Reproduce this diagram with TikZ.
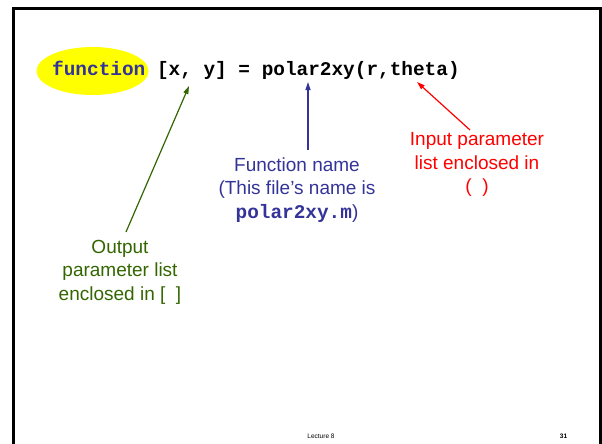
\documentclass[tikz,border=0pt]{standalone}
\usepackage{fontspec}
\setmainfont{Liberation Sans}
\setmonofont{Liberation Mono}
\usetikzlibrary{arrows.meta}
\definecolor{kwblue}{RGB}{51,51,153}
\definecolor{outgreen}{RGB}{51,102,0}
\definecolor{inred}{RGB}{255,0,0}
\definecolor{hiyellow}{RGB}{255,255,0}
\tikzset{
  code/.style={inner sep=0pt, font=\fontsize{19.4}{23.5}\selectfont\ttfamily\bfseries},
  callout/.style={inner sep=0pt, align=center, anchor=north, font=\fontsize{19}{23.5}\selectfont},
  pointer/.style={line width=1.2pt, -{Triangle[length=8pt,width=5pt]}},
  footer/.style={inner sep=0pt, font=\fontsize{6.5}{8}\selectfont}
}
\begin{document}
\begin{tikzpicture}[x=1pt,y=-1pt]
  \useasboundingbox (0,0) rectangle (602,444);
  % slide frame, open at the bottom
  \draw[line width=2.6pt] (13.5,444) -- (13.5,8.5) -- (600.5,8.5) -- (600.5,444);

  % highlighted keyword
  \fill[hiyellow] (92.5,71) ellipse [x radius=56, y radius=24];
  \node[code, anchor=base west, text=kwblue] (kw) at (52,75) {function};
  \node[code, anchor=base west] (sig) at (156.8,75) {[x, y] = polar2xy(r,theta)};

  % arrow targets and tails
  \coordinate (outtip) at (189,86);
  \coordinate (outtail) at (126,232);
  \coordinate (nametip) at (308,82);
  \coordinate (nametail) at (308,150);
  \coordinate (intip) at (417,82);
  \coordinate (intail) at (470,130);

  % callout labels
  \node[callout, text=outgreen] (outlbl) at (120,240) {Output\\parameter list\\enclosed in [\ \ ]};
  \node[callout, text=kwblue] (namelbl) at (297,157.5) {Function name\\(This file’s name is\\{\fontsize{19.4}{23.5}\selectfont\ttfamily\bfseries polar2xy.m})};
  \node[callout, text=inred] (inlbl) at (477,132.5) {Input parameter\\list enclosed in\\(\ \ )};

  % connectors
  \draw[pointer, outgreen] (outtail) -- (outtip);
  \draw[pointer, kwblue] (nametail) -- (nametip);
  \draw[pointer, inred] (intail) -- (intip);

  % footer
  \node[footer] (lecture) at (321,436.5) {Lecture 8};
  \node[footer, font=\fontsize{6.5}{8}\selectfont\bfseries] (page) at (563.5,436.5) {31};
\end{tikzpicture}
\end{document}
